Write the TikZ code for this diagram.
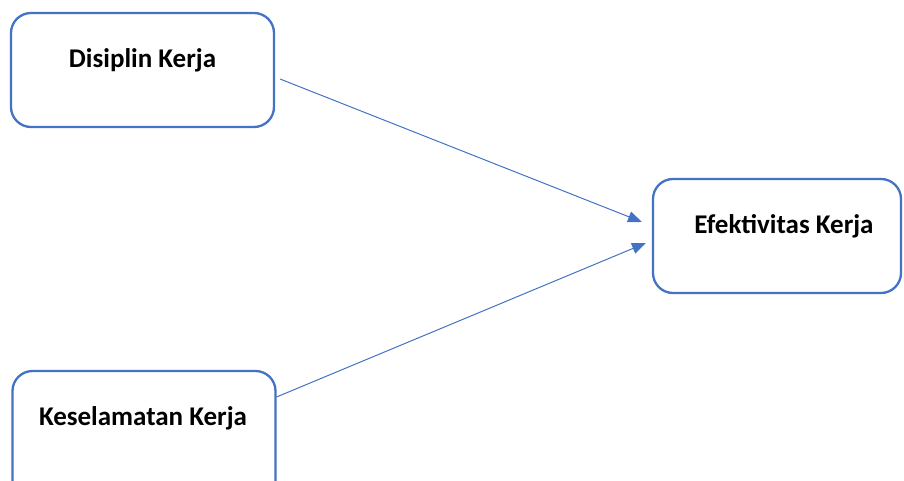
\documentclass[tikz,border=0pt]{standalone}
\usepackage{fontspec}
\setmainfont{Carlito}
\usetikzlibrary{arrows.meta}
\definecolor{officeblue}{HTML}{4472C4}
\tikzset{
  box/.style={draw=officeblue, line width=2.3pt, rounded corners=20pt, fill=white, inner sep=0pt, outer sep=0pt},
  lbl/.style={font=\fontsize{27}{32}\selectfont\bfseries, anchor=base, inner sep=0pt},
  arr/.style={draw=officeblue, line width=1pt, -{Triangle[length=14pt,width=11pt]}}
}
\begin{document}
\begin{tikzpicture}[x=1pt,y=-1pt]
\useasboundingbox (0,0) rectangle (904,481);
\node[box, minimum width=263pt, minimum height=114pt] (b1) at (142.5,70) {};
\node[box, minimum width=248pt, minimum height=114pt] (b2) at (777,236) {};
\node[box, minimum width=263pt, minimum height=130pt] (b3) at (144,436) {};
\node[lbl] (t1) at (142.5,68) {Disiplin Kerja};
\node[lbl] (t2) at (784,233) {Efektivitas Kerja};
\node[lbl] (t3) at (143,425.5) {Keselamatan Kerja};
\draw[arr] ([xshift=6pt,yshift=-9pt]b1.east) -- ([xshift=-11pt,yshift=14pt]b2.west);
\draw[arr] ([xshift=1pt,yshift=39pt]b3.east) -- ([xshift=-7pt,yshift=-7pt]b2.west);
\end{tikzpicture}
\end{document}
